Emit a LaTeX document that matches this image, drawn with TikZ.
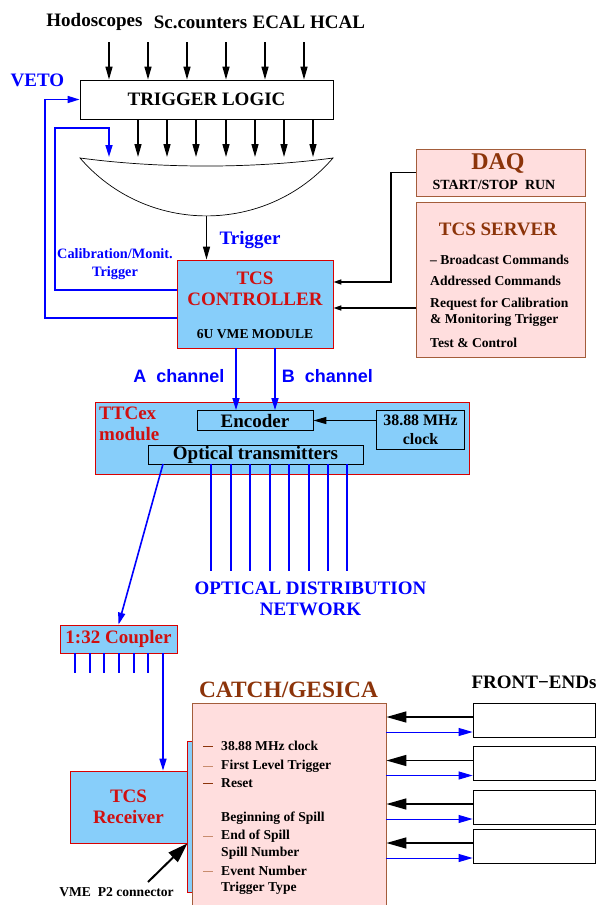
\documentclass[tikz,border=0pt]{standalone}
\usepackage{fontspec}
\setmainfont{Liberation Serif}
\newfontfamily\chanfont{Liberation Sans}
\usetikzlibrary{arrows.meta, positioning}
\definecolor{FillBlue}{RGB}{135, 206, 250}
\definecolor{FillPink}{RGB}{255, 222, 222}
\definecolor{TextRed}{RGB}{208, 16, 16}
\definecolor{TextBrown}{RGB}{140, 52, 10}
\definecolor{DashTan}{RGB}{200, 140, 110}

\tikzset{
  bigtext/.style={font=\fontsize{19}{21}\selectfont\bfseries, inner sep=0pt},
  smalltext/.style={font=\fontsize{13.6}{17}\selectfont\bfseries, inner sep=0pt},
  chantext/.style={font=\fontsize{18}{20}\selectfont\chanfont\bfseries, inner sep=0pt, blue},
  plainbox/.style={draw, fill=white, line width=0.8pt, inner sep=0pt},
  bluebox/.style={draw=red!85!black, fill=FillBlue, line width=0.8pt, inner sep=0pt},
  innerbox/.style={draw, line width=0.8pt, inner sep=0pt},
  pinkbox/.style={draw=TextBrown!80, fill=FillPink, line width=0.8pt, inner sep=0pt},
  blkarrow/.style={-{Triangle[length=13pt, width=7pt]}, line width=1.3pt},
  ctlarrow/.style={-{Triangle[length=8pt, width=5pt]}, line width=1.5pt},
  bluearrow/.style={-{Triangle[length=12pt, width=7pt]}, blue, line width=1.6pt},
  bluewire/.style={blue, line width=1.6pt},
  fearrow/.style={-{Triangle[length=20pt, width=11pt]}, line width=1.5pt},
  fereturn/.style={-{Triangle[length=14pt, width=8pt]}, blue, line width=1pt},
  vmearrow/.style={-{Triangle[length=20pt, width=13pt]}, line width=2pt}
}

\begin{document}
\begin{tikzpicture}[x=1pt, y=-1pt]
  \useasboundingbox (0,0) rectangle (600,905);

  % Detector inputs and trigger logic
  \node[bigtext] (hodo) at (94.5, 22) {Hodoscopes};
  \node[bigtext] (scc) at (200.5, 22) {Sc.counters};
  \node[bigtext] (ecal) at (279, 22) {ECAL};
  \node[bigtext] (hcal) at (337.5, 22) {HCAL};

  \node[plainbox, bigtext, draw, minimum width=253pt, minimum height=39pt] (tl) at (206.5, 99.5) {TRIGGER LOGIC};

  \foreach \x in {109, 148, 187, 226, 265, 304}
    \draw[blkarrow] (\x, 42) -- (\x, 0 |- tl.north);
  \foreach \x in {138, 167, 196, 226, 255, 284, 313}
    \draw[blkarrow] (\x, 0 |- tl.south) -- (\x, 157);

  % OR lens
  \draw[line width=0.7pt] (80, 158) .. controls (160, 168.7) and (253, 168.7) .. (333, 158)
    .. controls (266.4, 235.2) and (146.6, 235.2) .. cycle;
  \coordinate (lensbot) at (206.5, 216);

  \node[bigtext, blue] (veto) at (37.5, 80) {VETO};

  % TCS controller
  \node[bluebox, minimum width=156pt, minimum height=88pt] (ctrl) at (255, 304) {};
  \node[bigtext, text=TextRed, align=center] (ctrltxt) at (255, 288.5) {TCS\\CONTROLLER};
  \node[smalltext] (vme) at (255, 334) {6U VME MODULE};

  \draw[blkarrow] (lensbot) -- (lensbot |- ctrl.north);
  \node[bigtext, blue] (trig) at (250, 240) {Trigger};

  \coordinate (vetobend) at (45, 99.5);
  \draw[bluearrow] ([yshift=-14pt]ctrl.west) -| (vetobend) -- (tl.west);
  \coordinate (calbend) at (55, 128);
  \coordinate (calend) at (109, 157);
  \draw[bluearrow] ([yshift=14pt]ctrl.west) -| (calbend) -| (calend);
  \node[smalltext, blue, align=center, font=\fontsize{14.3}{18}\selectfont\bfseries] (caltxt) at (115, 264) {Calibration/Monit.\\Trigger};

  % DAQ and TCS server
  \node[pinkbox, minimum width=169pt, minimum height=47pt] (daq) at (500.5, 172.5) {};
  \node[bigtext, text=TextBrown, font=\fontsize{24}{26}\selectfont\bfseries] (daqtxt) at (498, 163) {DAQ};
  \node[smalltext, font=\fontsize{14}{16}\selectfont\bfseries] (runtxt) at (494, 185) {START/STOP~~RUN};

  \node[pinkbox, minimum width=169pt, minimum height=155pt] (server) at (500.5, 279.5) {};
  \node[bigtext, text=TextBrown] (srvtxt) at (498, 229) {TCS SERVER};
  \node[smalltext, anchor=west] (bcast) at (430, 260) {– Broadcast Commands};
  \node[smalltext, anchor=west] (addr) at (430, 281) {Addressed Commands};
  \node[smalltext, anchor=west] (req1) at (430, 304) {Request for Calibration};
  \node[smalltext, anchor=west] (req2) at (430, 320) {\& Monitoring Trigger};
  \node[smalltext, anchor=west] (test) at (430, 343) {Test \& Control};

  \coordinate (daqbend) at (391, 282);
  \draw[ctlarrow] (daq.west) -| (daqbend) -- (daqbend -| ctrl.east);
  \draw[ctlarrow] ([yshift=-28.5pt]server.west) -- ([yshift=-28.5pt]server.west -| ctrl.east);

  % TTCex module
  \node[bluebox, minimum width=374pt, minimum height=72pt] (ttc) at (282, 438) {};
  \node[bigtext, text=TextRed, anchor=west, align=left] (ttctxt) at (99, 424) {TTCex\\module};
  \node[innerbox, bigtext, minimum width=116pt, minimum height=20pt] (enc) at (255, 420.5) {Encoder};
  \node[innerbox, smalltext, align=center, font=\fontsize{15.9}{19}\selectfont\bfseries, minimum width=88pt, minimum height=39pt] (clock) at (420.5, 430) {38.88 MHz\\clock};
  \node[innerbox, bigtext, minimum width=215pt, minimum height=19pt] (optic) at (255.5, 454.5) {Optical transmitters};

  \draw[blkarrow] (clock.west |- enc.east) -- (enc.east);
  \draw[bluearrow] ([xshift=-19pt]ctrl.south) -- ([xshift=-19pt]ctrl.south |- enc.north);
  \draw[bluearrow] ([xshift=20pt]ctrl.south) -- ([xshift=20pt]ctrl.south |- enc.north);
  \node[chantext] (cha) at (179, 376) {A~~channel};
  \node[chantext] (chb) at (327.5, 376) {B~~channel};

  \foreach \x in {211, 231, 250, 270, 289, 309, 328, 347}
    \draw[bluewire] (\x, 0 |- optic.south) -- (\x, 571);
  \node[bigtext, blue, align=center] (odn) at (310.5, 599) {OPTICAL DISTRIBUTION\\NETWORK};

  % Coupler and TCS receiver
  \node[bluebox, bigtext, text=TextRed, minimum width=117pt, minimum height=28pt] (coupler) at (118.5, 639) {1:32 Coupler};
  \coordinate (optout) at (163, 464);
  \draw[bluearrow] (optout) -- (coupler.north);
  \foreach \x in {75, 90, 104, 119, 134, 148}
    \draw[bluewire] (\x, 0 |- coupler.south) -- (\x, 673);

  \node[bluebox, minimum width=6pt, minimum height=151pt] (p2) at (190, 817) {};
  \node[bluebox, bigtext, text=TextRed, align=center, minimum width=117pt, minimum height=72pt] (recv) at (128.5, 807) {TCS\\Receiver};
  \coordinate (cplout) at (163, 653);
  \draw[bluearrow] (cplout) -- (cplout |- recv.north);

  \coordinate (vmetail) at (148, 882);
  \draw[vmearrow] (vmetail) -- (recv.south east);
  \node[smalltext] (vmetxt) at (116.5, 892) {VME~~P2 connector};

  % CATCH / GESICA
  \node[pinkbox, minimum width=194pt, minimum height=210pt] (catch) at (289, 808) {};
  \node[bigtext, text=TextBrown, font=\fontsize{23.4}{26}\selectfont\bfseries] (catchtxt) at (288.5, 690) {CATCH/GESICA};

  \foreach \y/\txt/\col in {746/38.88 MHz clock/TextBrown, 766/First Level Trigger/DashTan,
      783/Reset/TextBrown, 818/Beginning of Spill/, 836/End of Spill/DashTan,
      853/Spill Number/, 871/Event Number/DashTan, 888/Trigger Type/} {
    \node[smalltext, anchor=west] at (221, \y) {\txt};
    \ifx\col\empty\else \draw[\col, line width=1pt] (203, \y) -- (213, \y); \fi
  }

  % Front-ends
  \node[bigtext] (fetxt) at (534, 682) {FRONT−ENDs};
  \foreach \i/\y in {1/720, 2/763.5, 3/807, 4/846} {
    \node[plainbox, minimum width=122pt, minimum height=34pt] (fe\i) at (534, \y) {};
    \draw[fearrow] ([yshift=3pt]fe\i.west) -- ([yshift=3pt]fe\i.west -| catch.east);
    \draw[fereturn] ([yshift=-12pt]fe\i.west -| catch.east) -- ([yshift=-12pt]fe\i.west);
  }
\end{tikzpicture}
\end{document}
